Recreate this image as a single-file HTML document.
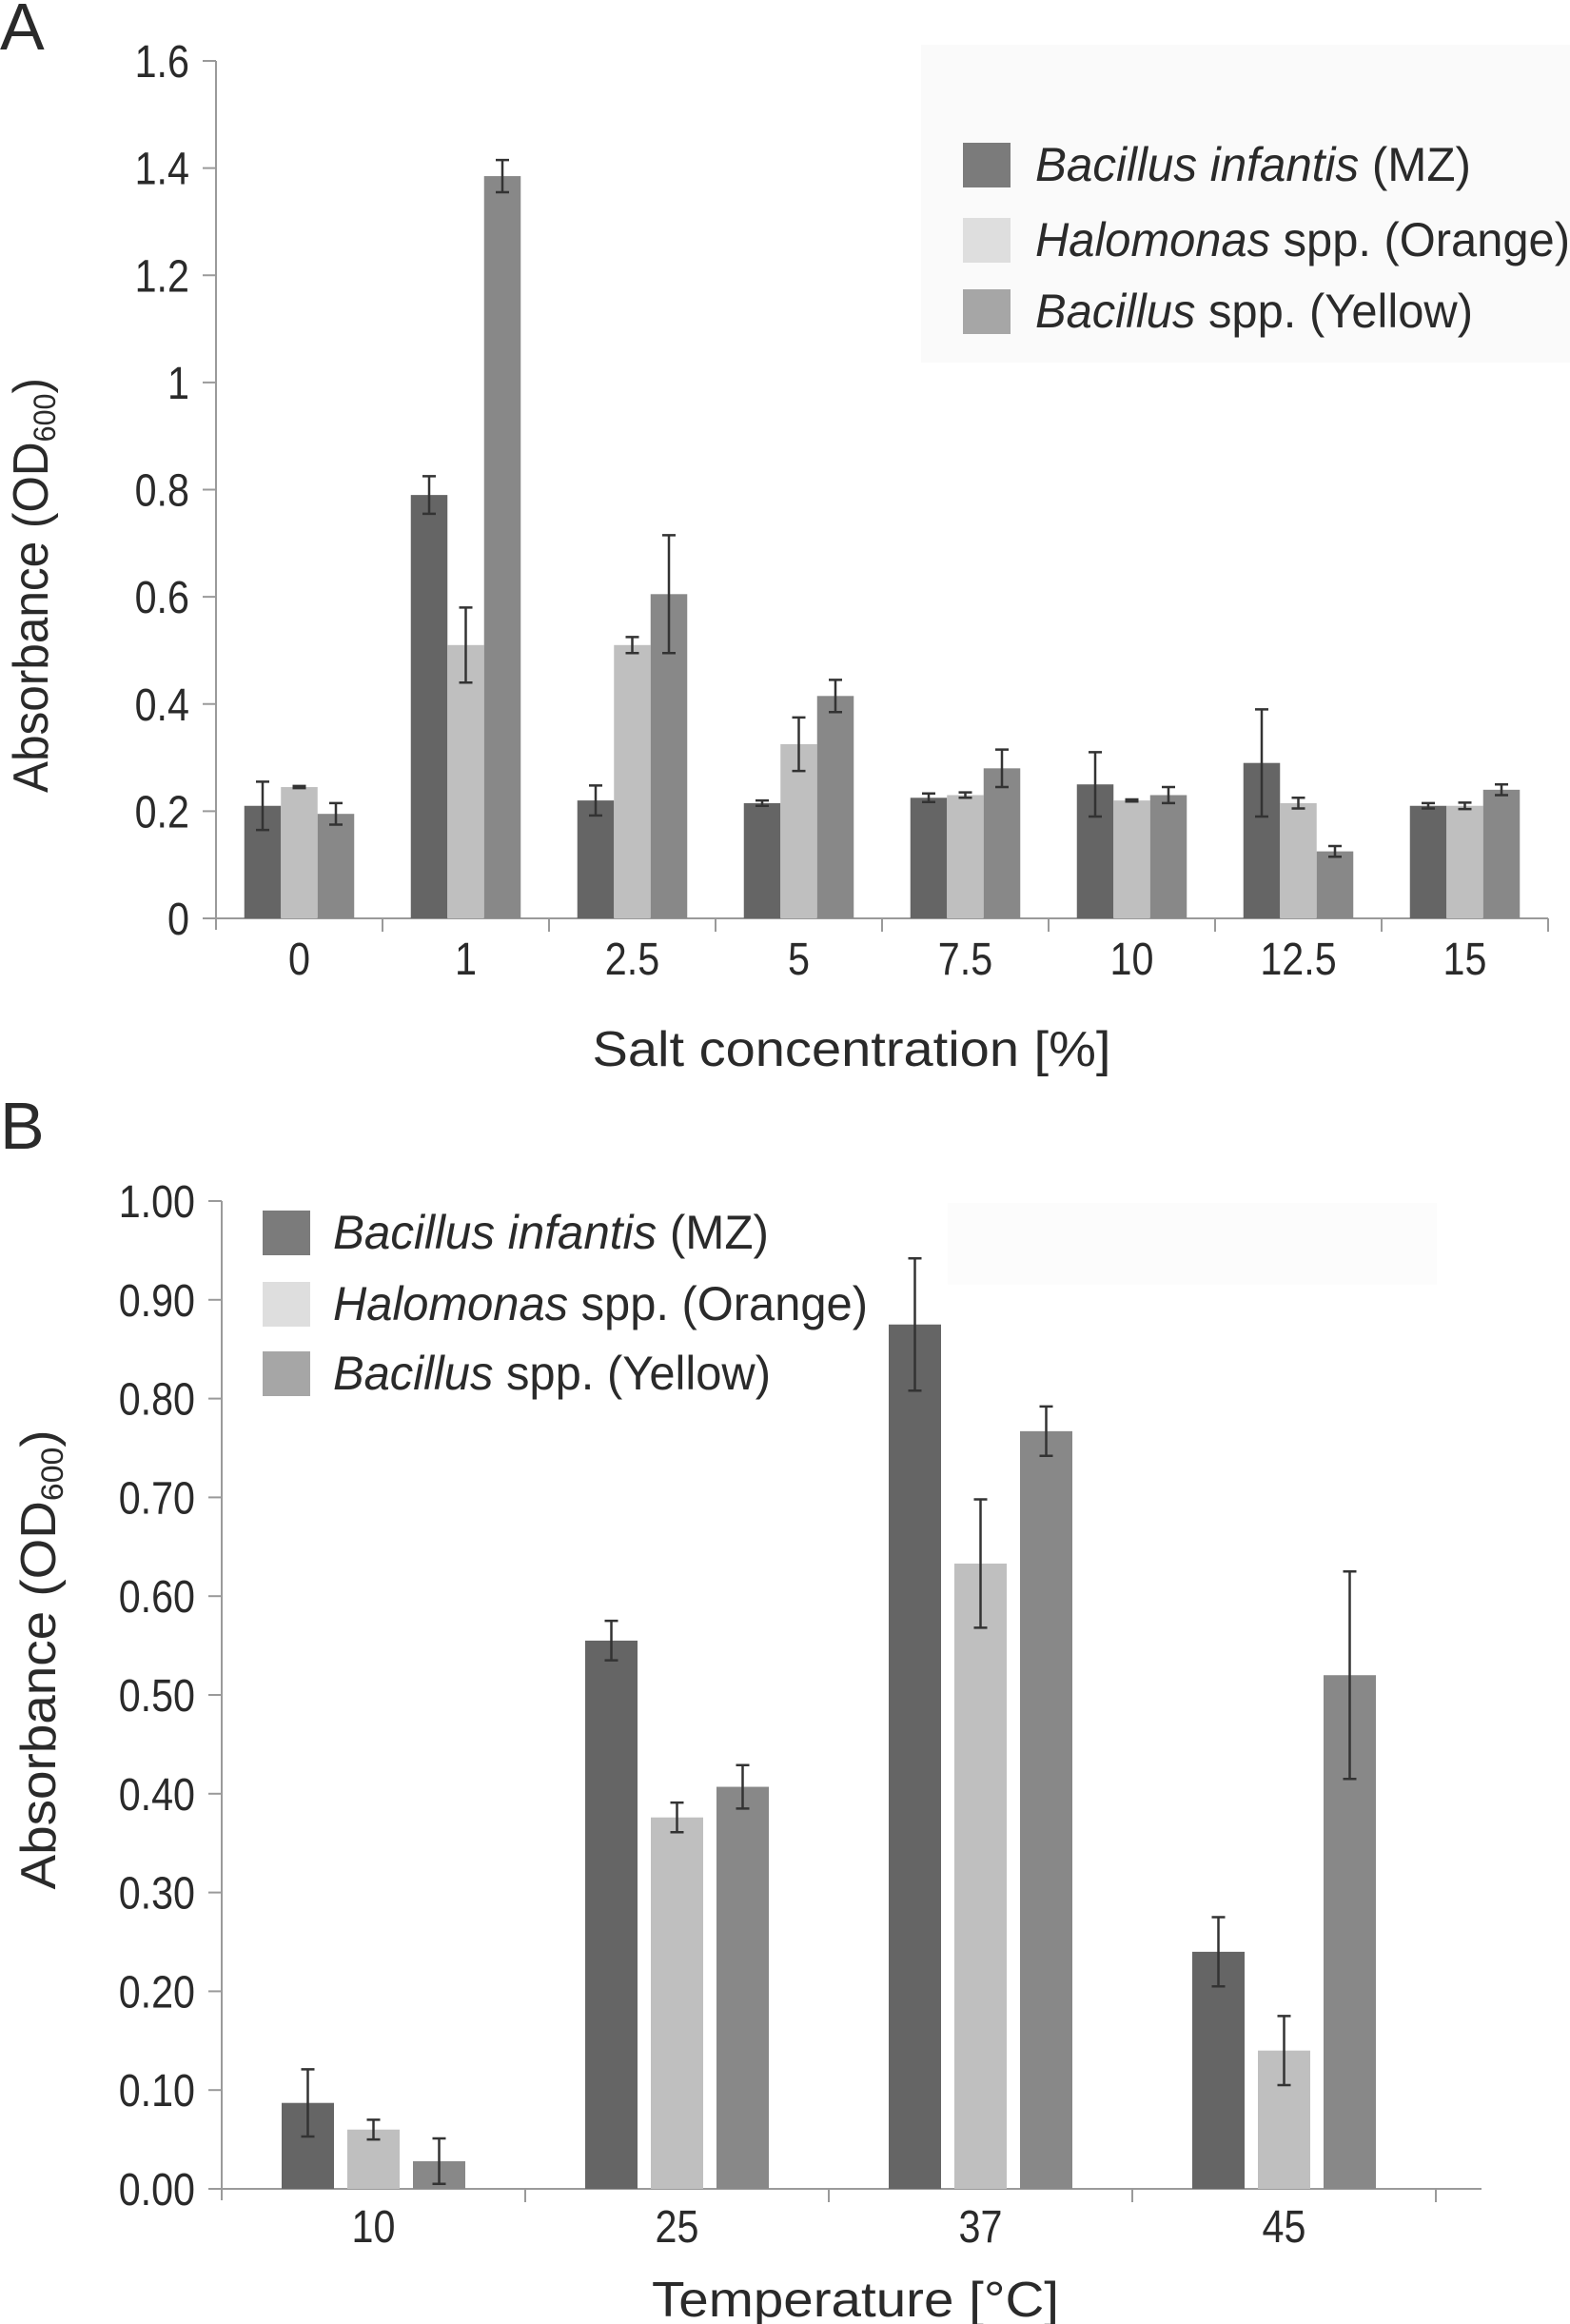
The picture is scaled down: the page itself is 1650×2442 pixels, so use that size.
<!DOCTYPE html>
<html><head><meta charset="utf-8"><style>
html,body{margin:0;padding:0;background:#fff}
svg{display:block}
text{font-family:"Liberation Sans",sans-serif;fill:#2a2a2a}
</style></head><body>
<svg id="fig" width="1650" height="2442" viewBox="0 0 1650 2442" xmlns="http://www.w3.org/2000/svg">
<rect x="968" y="47" width="682" height="334" fill="#fafafa"/>
<rect x="996" y="1264" width="514" height="86" fill="#fcfcfc"/>
<text x="0" y="52" font-size="70">A</text>
<text x="0" y="1207" font-size="70">B</text>
<g id="chartA"></g>
<g id="chartB"></g>
</svg>
<script>
const catsA = ["0","1","2.5","5","7.5","10","12.5","15"];
const darkA = [0.21,0.79,0.22,0.215,0.225,0.25,0.29,0.21];
const darkErrA = [0.045,0.035,0.028,0.005,0.008,0.06,0.1,0.005];
const lightA = [0.245,0.51,0.51,0.325,0.23,0.22,0.215,0.21];
const lightErrA = [0.002,0.07,0.015,0.05,0.005,0.002,0.01,0.006];
const midA = [0.195,1.385,0.605,0.415,0.28,0.23,0.125,0.24];
const midErrA = [0.02,0.03,0.11,0.03,0.035,0.015,0.01,0.01];
const ticksA = ["0","0.2","0.4","0.6","0.8","1","1.2","1.4","1.6"];
const tickValsA = [0,0.2,0.4,0.6,0.8,1,1.2,1.4,1.6];

const catsB = ["10","25","37","45"];
const darkB = [0.087,0.555,0.875,0.24];
const darkErrB = [0.034,0.02,0.067,0.035];
const lightB = [0.06,0.376,0.633,0.14];
const lightErrB = [0.01,0.015,0.065,0.035];
const midB = [0.028,0.407,0.767,0.52];
const midErrB = [0.023,0.022,0.025,0.105];
const ticksB = ["0.00","0.10","0.20","0.30","0.40","0.50","0.60","0.70","0.80","0.90","1.00"];
const tickValsB = [0,0.1,0.2,0.3,0.4,0.5,0.6,0.7,0.8,0.9,1.0];

const NS = "http://www.w3.org/2000/svg";
function mk(parent, tag, attrs, txt){
  const e = document.createElementNS(NS, tag);
  for (const k in attrs) e.setAttribute(k, attrs[k]);
  if (txt !== undefined) e.textContent = txt;
  parent.appendChild(e);
  return e;
}
function squeeze(t, f){
  const w = t.getComputedTextLength();
  t.setAttribute('textLength', (w*f).toFixed(1));
  t.setAttribute('lengthAdjust', 'spacingAndGlyphs');
}
const barColors = ["#656565","#bfbfbf","#888888"];

function drawChart(g, cfg){
  const yS = v => cfg.y0 - (v / cfg.vmax) * (cfg.y0 - cfg.ytop);
  const xC = i => cfg.x0 + cfg.cw * (i + 0.5);
  const ya = mk(g,'line',{x1:cfg.x0,y1:cfg.ytop,x2:cfg.x0,y2:cfg.y0+12,stroke:'#9a9a9a','stroke-width':2});
  
  
  const xa = mk(g,'line',{x1:cfg.x0-14,y1:cfg.y0,x2:cfg.xend,y2:cfg.y0,stroke:'#9a9a9a','stroke-width':2});
  
  
  cfg.tickVals.forEach((v,i)=>{
    const y = yS(v);
    const t = mk(g,'line',{x1:cfg.x0-14,y1:y,x2:cfg.x0,y2:y,stroke:'#9a9a9a','stroke-width':2});
    
    
    const l = mk(g,'text',{x:cfg.labRight,y:y+17,'font-size':48,'text-anchor':'end'}, cfg.ticks[i]);
    
    
    squeeze(l, 0.86);
  });
  for (let i=1;i<=cfg.cats.length;i++){
    const x = cfg.x0 + cfg.cw*i;
    const t = mk(g,'line',{x1:x,y1:cfg.y0,x2:x,y2:cfg.y0+14,stroke:'#9a9a9a','stroke-width':2});
    
    
  }
  const series = [cfg.dark, cfg.light, cfg.mid];
  const errs = [cfg.darkErr, cfg.lightErr, cfg.midErr];
  cfg.cats.forEach((c,i)=>{
    const total = 3*cfg.bw + 2*cfg.gap;
    const start = xC(i) - total/2;
    series.forEach((s,k)=>{
      const x = start + k*(cfg.bw+cfg.gap);
      const y = yS(s[i]);
      const r = mk(g,'rect',{x:x,y:y,width:cfg.bw,height:cfg.y0-y,fill:barColors[k]});
      
      
      const cx = x + cfg.bw/2;
      const yt = yS(s[i]+errs[k][i]), yb = yS(s[i]-errs[k][i]);
      const e = mk(g,'path',{d:`M${cx-7},${yt}H${cx+7}M${cx},${yt}V${yb}M${cx-7},${yb}H${cx+7}`,stroke:'#333',fill:'none','stroke-width':2.5});
      
      
    });
    const l = mk(g,'text',{x:xC(i),y:cfg.xlabY,'font-size':48,'text-anchor':'middle'}, c);
    
    
    squeeze(l, 0.86);
  });
}

drawChart(document.getElementById('chartA'),{
  x0:227,y0:965,ytop:64,vmax:1.6,cw:175,xend:1627,bw:38.5,gap:0,labRight:199,xlabY:1024,
  cats:catsA,dark:darkA,light:lightA,mid:midA,darkErr:darkErrA,lightErr:lightErrA,midErr:midErrA,
  ticks:ticksA,tickVals:tickValsA});
drawChart(document.getElementById('chartB'),{
  x0:233,y0:2300,ytop:1262,vmax:1.0,cw:319,xend:1557,bw:55,gap:14,labRight:205,xlabY:2356,
  cats:catsB,dark:darkB,light:lightB,mid:midB,darkErr:darkErrB,lightErr:lightErrB,midErr:midErrB,
  ticks:ticksB,tickVals:tickValsB});

const svg = document.getElementById('fig');
const legColors = ["#7b7b7b","#dedede","#a6a6a6"];
function legend(x, ys, tx, w){
  ys.forEach((y,k)=>{
    const r = mk(svg,'rect',{x:x,y:y,width:50,height:47,fill:legColors[k]});
    
    
    const t = mk(svg,'text',{x:tx,y:y+40,'font-size':50,textLength:w[k],lengthAdjust:'spacingAndGlyphs'});
    
    
    const parts = [["Bacillus infantis"," (MZ)"],["Halomonas"," spp. (Orange)"],["Bacillus"," spp. (Yellow)"]][k];
    mk(t,'tspan',{'font-style':'italic'},parts[0]);
    mk(t,'tspan',{},parts[1]);
  });
}
legend(1012,[150,229,304],1088,[458,562,460]);
legend(276,[1272,1347,1420],350,[458,562,460]);

function axTitle(x,y,len,rot,name){
  const t = mk(svg,'text',{x:x,y:y,'font-size':52,'text-anchor':'middle',textLength:len,lengthAdjust:'spacingAndGlyphs',transform:rot?`rotate(-90 ${x} ${y})`:''});
  
  
  return t;
}
const ta = axTitle(50,615,436,true,'y-axis-title-a');
mk(ta,'tspan',{},'Absorbance (OD');mk(ta,'tspan',{'font-size':32,dy:8},'600');mk(ta,'tspan',{dy:-8},')');
const tb = axTitle(58,1744,483,true,'y-axis-title-b');
mk(tb,'tspan',{},'Absorbance (OD');mk(tb,'tspan',{'font-size':32,dy:8},'600');mk(tb,'tspan',{dy:-8},')');
axTitle(895,1120,545,false,'x-axis-title-a').textContent='Salt concentration [%]';
axTitle(899,2434,428,false,'x-axis-title-b').textContent='Temperature [°C]';
</script>
</body></html>
